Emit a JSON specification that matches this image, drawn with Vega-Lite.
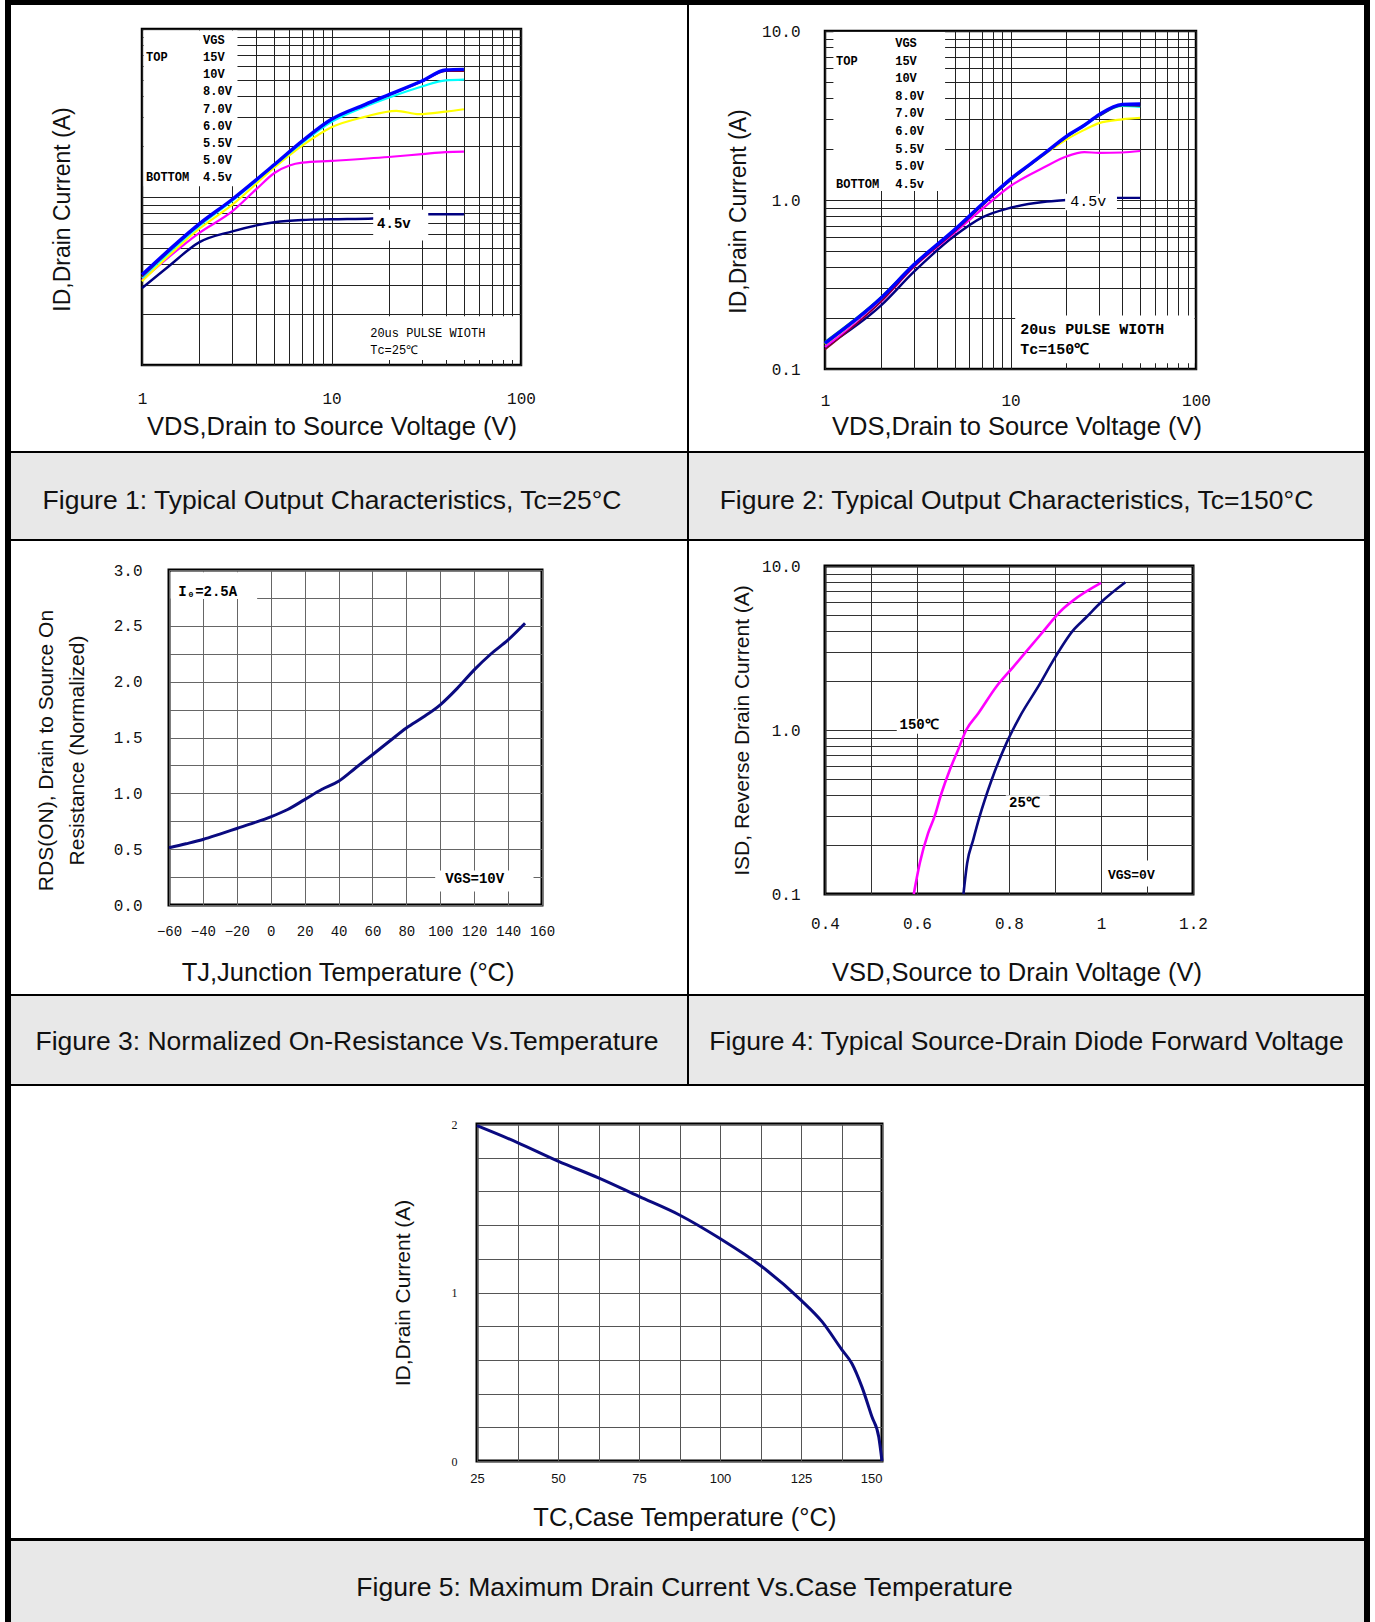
{
"$schema":"https://vega.github.io/schema/vega-lite/v6.json",
"background":"white",
"padding":{"left":5,"top":0,"right":0,"bottom":0},
"spacing":0,
"bounds":"flush",
"config":{"view":{"stroke":null},"axis":{"domain":false,"ticks":false,"labelFont":"Liberation Mono","labelColor":"#111","titleFont":"Liberation Sans","titleFontWeight":"normal","titleColor":"#111","gridColor":"#333","gridOpacity":1,"gridWidth":1,"labelFlush":false}},
"vconcat":[
{"hconcat":[
 {"width":6,"height":1622,"data":{"values":[]},"mark":"point","view":{"fill":"#000"}},
 {"width":676,"height":1,"data":{"values":[]},"mark":"point"},
 {"width":2,"height":1084,"data":{"values":[]},"mark":"point","view":{"fill":"#000"}},
 {"width":675,"height":1,"data":{"values":[]},"mark":"point"},
 {"width":6,"height":1622,"data":{"values":[]},"mark":"point","view":{"fill":"#000"}}
],"spacing":0,"bounds":"flush"},
{"hconcat":[{"width":1365,"height":5,"data":{"values":[]},"mark":"point","view":{"fill":"#000"}}],"spacing":0,"bounds":"flush"},
{"width":0,"height":29,"data":{"values":[]},"mark":"point"},

{"hconcat":[
 {"width":137,"height":1,"data":{"values":[]},"mark":"point"},
 {"width":379,"height":336,"view":{"stroke":"#000","strokeWidth":2.5},
  "encoding":{
   "x":{"field":"x","type":"quantitative","scale":{"type":"log","domain":[1,100],"nice":false},"title":"VDS,Drain to Source Voltage (V)",
    "axis":{"values":[1,2,3,4,5,6,7,8,9,10,20,30,40,50,60,70,80,90,100],"labelExpr":"datum.value==1?'1':datum.value==10?'10':datum.value==100?'100':''","labelFontSize":16,"labelPadding":25,"titleFontSize":25.5,"titlePadding":8,"grid":true,"gridColor":"#222"}},
   "y":{"field":"y","type":"quantitative","scale":{"type":"log","domain":[0.1,10],"nice":false},"title":"ID,Drain Current (A)",
    "axis":{"values":[0.1,0.2,0.3,0.4,0.5,0.6,0.7,0.8,0.9,1,2,3,4,5,6,7,8,9,10],"labels":false,"titleFontSize":23,"titlePadding":68,"titleY":180,"grid":true,"gridColor":"#222"}}},
  "layer":[
   {"data":{"values":[
    {"vgs":"g1_4.5V","x":1,"y":0.287},{"vgs":"g1_4.5V","x":1.38,"y":0.386},{"vgs":"g1_4.5V","x":2,"y":0.537},{"vgs":"g1_4.5V","x":3,"y":0.625},{"vgs":"g1_4.5V","x":5,"y":0.708},{"vgs":"g1_4.5V","x":7,"y":0.73},{"vgs":"g1_4.5V","x":10,"y":0.737},{"vgs":"g1_4.5V","x":16.6,"y":0.745},{"vgs":"g1_4.5V","x":32.4,"y":0.79},{"vgs":"g1_4.5V","x":50,"y":0.79},
    {"vgs":"g2_5.0V","x":1,"y":0.32},{"vgs":"g2_5.0V","x":2,"y":0.61},{"vgs":"g2_5.0V","x":3,"y":0.823},{"vgs":"g2_5.0V","x":4,"y":1.11},{"vgs":"g2_5.0V","x":5,"y":1.39},{"vgs":"g2_5.0V","x":6,"y":1.54},{"vgs":"g2_5.0V","x":7,"y":1.6},{"vgs":"g2_5.0V","x":10,"y":1.64},{"vgs":"g2_5.0V","x":20,"y":1.73},{"vgs":"g2_5.0V","x":30,"y":1.8},{"vgs":"g2_5.0V","x":40,"y":1.85},{"vgs":"g2_5.0V","x":50,"y":1.86},
    {"vgs":"g3_6.0V","x":1,"y":0.315},{"vgs":"g3_6.0V","x":2,"y":0.646},{"vgs":"g3_6.0V","x":3,"y":0.9},{"vgs":"g3_6.0V","x":5,"y":1.5},{"vgs":"g3_6.0V","x":7,"y":2.02},{"vgs":"g3_6.0V","x":10,"y":2.6},{"vgs":"g3_6.0V","x":15,"y":3.0},{"vgs":"g3_6.0V","x":22,"y":3.26},{"vgs":"g3_6.0V","x":29,"y":3.11},{"vgs":"g3_6.0V","x":40,"y":3.22},{"vgs":"g3_6.0V","x":50,"y":3.33},
    {"vgs":"g4_7.0V","x":1,"y":0.33},{"vgs":"g4_7.0V","x":2,"y":0.67},{"vgs":"g4_7.0V","x":3,"y":0.95},{"vgs":"g4_7.0V","x":5,"y":1.54},{"vgs":"g4_7.0V","x":7,"y":2.1},{"vgs":"g4_7.0V","x":10,"y":2.8},{"vgs":"g4_7.0V","x":15,"y":3.45},{"vgs":"g4_7.0V","x":20,"y":3.9},{"vgs":"g4_7.0V","x":30,"y":4.55},{"vgs":"g4_7.0V","x":40,"y":4.95},{"vgs":"g4_7.0V","x":50,"y":5.0},
    {"vgs":"g6_10V","x":1,"y":0.335},{"vgs":"g6_10V","x":2,"y":0.68},{"vgs":"g6_10V","x":3,"y":0.96},{"vgs":"g6_10V","x":5,"y":1.55},{"vgs":"g6_10V","x":7,"y":2.13},{"vgs":"g6_10V","x":10,"y":2.88},{"vgs":"g6_10V","x":15,"y":3.52},{"vgs":"g6_10V","x":20,"y":4.02},{"vgs":"g6_10V","x":30,"y":4.85},{"vgs":"g6_10V","x":40,"y":5.6},{"vgs":"g6_10V","x":50,"y":5.6},
    {"vgs":"g7_15V","x":1,"y":0.344},{"vgs":"g7_15V","x":2,"y":0.69},{"vgs":"g7_15V","x":3,"y":0.97},{"vgs":"g7_15V","x":5,"y":1.56},{"vgs":"g7_15V","x":7,"y":2.15},{"vgs":"g7_15V","x":10,"y":2.9},{"vgs":"g7_15V","x":15,"y":3.55},{"vgs":"g7_15V","x":20,"y":4.06},{"vgs":"g7_15V","x":30,"y":4.9},{"vgs":"g7_15V","x":40,"y":5.7},{"vgs":"g7_15V","x":50,"y":5.75}]},
    "mark":{"type":"line","interpolate":"monotone"},
    "encoding":{"color":{"field":"vgs","type":"nominal","scale":{"domain":["g1_4.5V","g2_5.0V","g3_6.0V","g4_7.0V","g5_8.0V","g6_10V","g7_15V","t150","t25"],"range":["#000080","#ff00ff","#ffff00","#00ffff","#008080","#800030","#0000ff","#ff00ff","#0a0a80"]},"legend":null},
     "strokeWidth":{"field":"vgs","type":"nominal","scale":{"type":"ordinal","domain":["g1_4.5V","g2_5.0V","g3_6.0V","g4_7.0V","g5_8.0V","g6_10V","g7_15V"],"range":[2.4,2.2,2.2,2.2,2,1.6,3.4]},"legend":null}}},
   {"data":{"values":[{"x":1.02,"x2":3.19,"y":1.16,"y2":9.8},{"x":16.6,"x2":32.4,"y":0.55,"y2":0.84},{"x":14.7,"x2":98,"y":0.107,"y2":0.195}]},
    "mark":{"type":"rect","fill":"#fff"},"encoding":{"x2":{"field":"x2"},"y2":{"field":"y2"}}},
   {"data":{"values":[{"x":2.1,"y":8.64,"t":"VGS"},{"x":1.05,"y":6.84,"t":"TOP"},{"x":2.1,"y":6.84,"t":"15V"},{"x":2.1,"y":5.43,"t":"10V"},{"x":2.1,"y":4.28,"t":"8.0V"},{"x":2.1,"y":3.36,"t":"7.0V"},{"x":2.1,"y":2.65,"t":"6.0V"},{"x":2.1,"y":2.1,"t":"5.5V"},{"x":2.1,"y":1.66,"t":"5.0V"},{"x":1.05,"y":1.31,"t":"BOTTOM"},{"x":2.1,"y":1.31,"t":"4.5v"}]},
    "mark":{"type":"text","align":"left","baseline":"middle","font":"Liberation Mono","fontSize":12,"fontWeight":"bold","color":"#000"},"encoding":{"text":{"field":"t"}}},
   {"data":{"values":[{"x":17.4,"y":0.695,"t":"4.5v"}]},
    "mark":{"type":"text","align":"left","baseline":"middle","font":"Liberation Mono","fontSize":14,"fontWeight":"bold","color":"#000"},"encoding":{"text":{"field":"t"}}},
   {"data":{"values":[{"x":16,"y":0.1545,"t":"20us PULSE WIOTH"},{"x":16,"y":0.122,"t":"Tc=25℃"}]},
    "mark":{"type":"text","align":"left","baseline":"middle","font":"Liberation Mono","fontSize":12,"color":"#000"},"encoding":{"text":{"field":"t"}}}
  ]}
],"spacing":0,"bounds":"flush"},
{"width":0,"height":2,"data":{"values":[]},"mark":"point"},

{"hconcat":[
 {"width":820,"height":1,"data":{"values":[]},"mark":"point"},
 {"width":371,"height":338,"view":{"stroke":"#000","strokeWidth":2.5},
  "encoding":{
   "x":{"field":"x","type":"quantitative","scale":{"type":"log","domain":[1,100],"nice":false},"title":"VDS,Drain to Source Voltage (V)",
    "axis":{"values":[1,2,3,4,5,6,7,8,9,10,20,30,40,50,60,70,80,90,100],"labelExpr":"datum.value==1?'1':datum.value==10?'10':datum.value==100?'100':''","labelFontSize":16,"labelPadding":23,"titleFontSize":25.5,"titlePadding":6,"titleX":191.5,"grid":true,"gridColor":"#222"}},
   "y":{"field":"y","type":"quantitative","scale":{"type":"log","domain":[0.1,10],"nice":false},"title":"ID,Drain Current (A)",
    "axis":{"values":[0.1,0.2,0.3,0.4,0.5,0.6,0.7,0.8,0.9,1,2,3,4,5,6,7,8,9,10],"labelExpr":"datum.value==0.1?'0.1':datum.value==1?'1.0':datum.value==10?'10.0':''","labelFontSize":16,"labelPadding":25,"titleFontSize":23,"titlePadding":11,"titleY":180,"grid":true,"gridColor":"#222"}}},
  "layer":[
   {"data":{"values":[
    {"vgs":"g1_4.5V","x":1,"y":0.135},{"vgs":"g1_4.5V","x":2,"y":0.237},{"vgs":"g1_4.5V","x":3,"y":0.374},{"vgs":"g1_4.5V","x":5,"y":0.614},{"vgs":"g1_4.5V","x":7,"y":0.787},{"vgs":"g1_4.5V","x":10,"y":0.9},{"vgs":"g1_4.5V","x":15,"y":0.973},{"vgs":"g1_4.5V","x":20,"y":1.0},{"vgs":"g1_4.5V","x":37.5,"y":1.03},{"vgs":"g1_4.5V","x":50,"y":1.03},
    {"vgs":"g2_5.0V","x":1,"y":0.135},{"vgs":"g2_5.0V","x":2,"y":0.25},{"vgs":"g2_5.0V","x":3,"y":0.4},{"vgs":"g2_5.0V","x":5,"y":0.64},{"vgs":"g2_5.0V","x":7,"y":0.88},{"vgs":"g2_5.0V","x":10,"y":1.21},{"vgs":"g2_5.0V","x":15,"y":1.55},{"vgs":"g2_5.0V","x":20,"y":1.81},{"vgs":"g2_5.0V","x":25,"y":1.92},{"vgs":"g2_5.0V","x":30,"y":1.9},{"vgs":"g2_5.0V","x":40,"y":1.91},{"vgs":"g2_5.0V","x":50,"y":1.95},
    {"vgs":"g3_6.0V","x":1,"y":0.14},{"vgs":"g3_6.0V","x":2,"y":0.26},{"vgs":"g3_6.0V","x":3,"y":0.41},{"vgs":"g3_6.0V","x":5,"y":0.66},{"vgs":"g3_6.0V","x":7,"y":0.93},{"vgs":"g3_6.0V","x":10,"y":1.31},{"vgs":"g3_6.0V","x":15,"y":1.84},{"vgs":"g3_6.0V","x":20,"y":2.28},{"vgs":"g3_6.0V","x":25,"y":2.6},{"vgs":"g3_6.0V","x":30,"y":2.85},{"vgs":"g3_6.0V","x":40,"y":3.0},{"vgs":"g3_6.0V","x":50,"y":3.06},
    {"vgs":"g4_7.0V","x":1,"y":0.142},{"vgs":"g4_7.0V","x":2,"y":0.262},{"vgs":"g4_7.0V","x":3,"y":0.412},{"vgs":"g4_7.0V","x":5,"y":0.665},{"vgs":"g4_7.0V","x":7,"y":0.935},{"vgs":"g4_7.0V","x":10,"y":1.32},{"vgs":"g4_7.0V","x":15,"y":1.86},{"vgs":"g4_7.0V","x":20,"y":2.36},{"vgs":"g4_7.0V","x":25,"y":2.75},{"vgs":"g4_7.0V","x":30,"y":3.16},{"vgs":"g4_7.0V","x":40,"y":3.6},{"vgs":"g4_7.0V","x":50,"y":3.55},
    {"vgs":"g5_8.0V","x":1,"y":0.145},{"vgs":"g5_8.0V","x":2,"y":0.266},{"vgs":"g5_8.0V","x":3,"y":0.415},{"vgs":"g5_8.0V","x":5,"y":0.66},{"vgs":"g5_8.0V","x":7,"y":0.93},{"vgs":"g5_8.0V","x":10,"y":1.31},{"vgs":"g5_8.0V","x":15,"y":1.85},{"vgs":"g5_8.0V","x":20,"y":2.35},{"vgs":"g5_8.0V","x":30,"y":3.14},{"vgs":"g5_8.0V","x":40,"y":3.62},{"vgs":"g5_8.0V","x":50,"y":3.6},
    {"vgs":"g6_10V","x":1,"y":0.13},{"vgs":"g6_10V","x":2,"y":0.25},{"vgs":"g6_10V","x":3,"y":0.4},{"vgs":"g6_10V","x":5,"y":0.65},{"vgs":"g6_10V","x":7,"y":0.92},{"vgs":"g6_10V","x":10,"y":1.31},{"vgs":"g6_10V","x":15,"y":1.85},{"vgs":"g6_10V","x":20,"y":2.35},{"vgs":"g6_10V","x":30,"y":3.15},{"vgs":"g6_10V","x":40,"y":3.64},{"vgs":"g6_10V","x":50,"y":3.62},
    {"vgs":"g7_15V","x":1,"y":0.142},{"vgs":"g7_15V","x":2,"y":0.262},{"vgs":"g7_15V","x":3,"y":0.412},{"vgs":"g7_15V","x":5,"y":0.668},{"vgs":"g7_15V","x":7,"y":0.94},{"vgs":"g7_15V","x":10,"y":1.33},{"vgs":"g7_15V","x":15,"y":1.86},{"vgs":"g7_15V","x":20,"y":2.38},{"vgs":"g7_15V","x":25,"y":2.77},{"vgs":"g7_15V","x":30,"y":3.2},{"vgs":"g7_15V","x":40,"y":3.68},{"vgs":"g7_15V","x":50,"y":3.7}]},
    "mark":{"type":"line","interpolate":"monotone"},
    "encoding":{"color":{"field":"vgs","type":"nominal","scale":{"domain":["g1_4.5V","g2_5.0V","g3_6.0V","g4_7.0V","g5_8.0V","g6_10V","g7_15V","t150","t25"],"range":["#000080","#ff00ff","#ffff00","#00ffff","#008080","#800030","#0000ff","#ff00ff","#0a0a80"]},"legend":null},
     "strokeWidth":{"field":"vgs","type":"nominal","scale":{"type":"ordinal","domain":["g1_4.5V","g2_5.0V","g3_6.0V","g4_7.0V","g5_8.0V","g6_10V","g7_15V"],"range":[2.4,2.2,2.2,2.2,2,1.6,3.4]},"legend":null}}},
   {"data":{"values":[{"x":1.11,"x2":4.44,"y":1.13,"y2":9.85},{"x":19.7,"x2":37.5,"y":0.87,"y2":1.09},{"x":10.6,"x2":98,"y":0.108,"y2":0.207}]},
    "mark":{"type":"rect","fill":"#fff"},"encoding":{"x2":{"field":"x2"},"y2":{"field":"y2"}}},
   {"data":{"values":[{"x":2.39,"y":8.5,"t":"VGS"},{"x":1.146,"y":6.66,"t":"TOP"},{"x":2.39,"y":6.66,"t":"15V"},{"x":2.39,"y":5.24,"t":"10V"},{"x":2.39,"y":4.13,"t":"8.0V"},{"x":2.39,"y":3.25,"t":"7.0V"},{"x":2.39,"y":2.55,"t":"6.0V"},{"x":2.39,"y":2.0,"t":"5.5V"},{"x":2.39,"y":1.58,"t":"5.0V"},{"x":1.146,"y":1.24,"t":"BOTTOM"},{"x":2.39,"y":1.24,"t":"4.5v"}]},
    "mark":{"type":"text","align":"left","baseline":"middle","font":"Liberation Mono","fontSize":12,"fontWeight":"bold","color":"#000"},"encoding":{"text":{"field":"t"}}},
   {"data":{"values":[{"x":21,"y":0.987,"t":"4.5v"}]},
    "mark":{"type":"text","align":"left","baseline":"middle","font":"Liberation Mono","fontSize":15,"color":"#000"},"encoding":{"text":{"field":"t"}}},
   {"data":{"values":[{"x":11.3,"y":0.172,"t":"20us PULSE WIOTH"},{"x":11.3,"y":0.1306,"t":"Tc=150℃"}]},
    "mark":{"type":"text","align":"left","baseline":"middle","font":"Liberation Mono","fontSize":15,"fontWeight":"bold","color":"#000"},"encoding":{"text":{"field":"t"}}}
  ]}
],"spacing":0,"bounds":"flush"},
{"width":0,"height":420,"data":{"values":[]},"mark":"point"},

{"hconcat":[{"width":1365,"height":2,"data":{"values":[]},"mark":"point","view":{"fill":"#000"}}],"spacing":0,"bounds":"flush"},
{"width":0,"height":2,"data":{"values":[]},"mark":"point"},

{"hconcat":[
 {"width":6,"height":1,"data":{"values":[]},"mark":"point"},
 {"width":676,"height":86,"view":{"fill":"#e8e8e8"},"data":{"values":[{"t":"Figure 1: Typical Output Characteristics, Tc=25°C"}]},"mark":{"type":"text","font":"Liberation Sans","fontSize":26.5,"color":"#111","dx":-17,"dy":5},"encoding":{"text":{"field":"t"}}},
 {"width":2,"height":1,"data":{"values":[]},"mark":"point"},
 {"width":675,"height":86,"view":{"fill":"#e8e8e8"},"data":{"values":[{"t":"Figure 2: Typical Output Characteristics, Tc=150°C"}]},"mark":{"type":"text","font":"Liberation Sans","fontSize":26.5,"color":"#111","dx":-10,"dy":5},"encoding":{"text":{"field":"t"}}}
],"spacing":0,"bounds":"flush"},
{"width":0,"height":86,"data":{"values":[]},"mark":"point"},

{"hconcat":[{"width":1365,"height":2,"data":{"values":[]},"mark":"point","view":{"fill":"#000"}}],"spacing":0,"bounds":"flush"},
{"width":0,"height":27,"data":{"values":[]},"mark":"point"},

{"hconcat":[
 {"width":820,"height":1,"data":{"values":[]},"mark":"point"},
 {"width":368,"height":328,"view":{"stroke":"#000","strokeWidth":3},
  "encoding":{
   "x":{"field":"x","type":"quantitative","scale":{"domain":[0.4,1.2],"nice":false,"zero":false},"title":"VSD,Source to Drain Voltage (V)",
    "axis":{"values":[0.4,0.5,0.6,0.7,0.8,0.9,1,1.1,1.2],"labelExpr":"datum.value==0.4?'0.4':datum.value==0.6?'0.6':datum.value==0.8?'0.8':datum.value==1?'1':datum.value==1.2?'1.2':''","labelFontSize":16,"labelPadding":21,"titleFontSize":25.5,"titlePadding":29,"titleX":191.5,"grid":true,"gridColor":"#333"}},
   "y":{"field":"y","type":"quantitative","scale":{"type":"log","domain":[0.1,10],"nice":false},"title":"ISD, Reverse Drain Current (A)",
    "axis":{"values":[0.1,0.2,0.3,0.4,0.5,0.6,0.7,0.8,0.9,1,2,3,4,5,6,7,8,9,10],"labelExpr":"datum.value==0.1?'0.1':datum.value==1?'1.0':datum.value==10?'10.0':''","labelFontSize":16,"labelPadding":25,"titleFontSize":21,"titlePadding":9,"grid":true,"gridColor":"#333"}}},
  "layer":[
   {"data":{"values":[
    {"temp":"t150","x":0.593,"y":0.1},{"temp":"t150","x":0.606,"y":0.154},{"temp":"t150","x":0.624,"y":0.234},{"temp":"t150","x":0.638,"y":0.296},{"temp":"t150","x":0.653,"y":0.41},{"temp":"t150","x":0.671,"y":0.569},{"temp":"t150","x":0.689,"y":0.752},{"temp":"t150","x":0.707,"y":1.0},{"temp":"t150","x":0.733,"y":1.26},{"temp":"t150","x":0.772,"y":1.83},{"temp":"t150","x":0.809,"y":2.42},{"temp":"t150","x":0.867,"y":3.77},{"temp":"t150","x":0.917,"y":5.47},{"temp":"t150","x":0.939,"y":6.15},{"temp":"t150","x":1.0,"y":7.88},
    {"temp":"t25","x":0.701,"y":0.1},{"temp":"t25","x":0.709,"y":0.154},{"temp":"t25","x":0.722,"y":0.213},{"temp":"t25","x":0.736,"y":0.296},{"temp":"t25","x":0.762,"y":0.494},{"temp":"t25","x":0.794,"y":0.826},{"temp":"t25","x":0.823,"y":1.2},{"temp":"t25","x":0.867,"y":1.91},{"temp":"t25","x":0.896,"y":2.65},{"temp":"t25","x":0.939,"y":4.04},{"temp":"t25","x":0.968,"y":4.87},{"temp":"t25","x":1.0,"y":6.01},{"temp":"t25","x":1.053,"y":7.96}]},
    "mark":{"type":"line","interpolate":"monotone","strokeWidth":2.6},
    "encoding":{"color":{"field":"temp","type":"nominal","scale":{"domain":["g1_4.5V","g2_5.0V","g3_6.0V","g4_7.0V","g5_8.0V","g6_10V","g7_15V","t150","t25"],"range":["#000080","#ff00ff","#ffff00","#00ffff","#008080","#800030","#0000ff","#ff00ff","#0a0a80"]},"legend":null}}},
   {"data":{"values":[{"x":0.556,"x2":0.693,"y":0.95,"y2":1.17},{"x":0.793,"x2":0.888,"y":0.324,"y2":0.4},{"x":1.005,"x2":1.195,"y":0.111,"y2":0.16}]},
    "mark":{"type":"rect","fill":"#fff"},"encoding":{"x2":{"field":"x2"},"y2":{"field":"y2"}}},
   {"data":{"values":[{"x":0.562,"y":1.07,"t":"150℃"},{"x":0.8,"y":0.361,"t":"25℃"}]},
    "mark":{"type":"text","align":"left","baseline":"middle","font":"Liberation Mono","fontSize":14,"fontWeight":"bold","color":"#000"},"encoding":{"text":{"field":"t"}}},
   {"data":{"values":[{"x":1.015,"y":0.13,"t":"VGS=0V"}]},
    "mark":{"type":"text","align":"left","baseline":"middle","font":"Liberation Mono","fontSize":13,"fontWeight":"bold","color":"#000"},"encoding":{"text":{"field":"t"}}}
  ]}
],"spacing":0,"bounds":"flush"},
{"width":0,"height":4,"data":{"values":[]},"mark":"point"},

{"hconcat":[
 {"width":164,"height":1,"data":{"values":[]},"mark":"point"},
 {"width":373,"height":335,"view":{"stroke":"#000","strokeWidth":3},
  "encoding":{
   "x":{"field":"x","type":"quantitative","scale":{"domain":[-60,160],"nice":false,"zero":false},"title":"TJ,Junction Temperature (°C)",
    "axis":{"values":[-60,-40,-20,0,20,40,60,80,100,120,140,160],"labelFontSize":14,"labelPadding":19,"titleFontSize":25.5,"titlePadding":22,"titleX":178.6,"grid":true,"gridColor":"#666"}},
   "y":{"field":"y","type":"quantitative","scale":{"domain":[0,3],"nice":false},"title":["RDS(ON), Drain to Source On","Resistance (Normalized)"],
    "axis":{"values":[0,0.25,0.5,0.75,1,1.25,1.5,1.75,2,2.25,2.5,2.75,3],"labelExpr":"datum.value*2%1==0 ? format(datum.value,'.1f') : ''","labelFontSize":16,"labelPadding":27,"titleFontSize":21,"titleLineHeight":31,"titlePadding":26,"titleY":180,"grid":true,"gridColor":"#666"}}},
  "layer":[
   {"data":{"values":[{"x":-60,"y":0.512},{"x":-50,"y":0.548},{"x":-40,"y":0.587},{"x":-30,"y":0.635},{"x":-20,"y":0.685},{"x":-10,"y":0.735},{"x":0,"y":0.789},{"x":10,"y":0.855},{"x":20,"y":0.944},{"x":30,"y":1.034},{"x":40,"y":1.108},{"x":50,"y":1.227},{"x":60,"y":1.346},{"x":70,"y":1.466},{"x":80,"y":1.585},{"x":90,"y":1.683},{"x":100,"y":1.793},{"x":110,"y":1.94},{"x":120,"y":2.106},{"x":130,"y":2.25},{"x":140,"y":2.374},{"x":150,"y":2.523}]},
    "mark":{"type":"line","interpolate":"monotone","color":"#0a0a80","strokeWidth":3}},
   {"data":{"values":[{"x":-59,"x2":-8,"y":2.74,"y2":2.98},{"x":97,"x2":155,"y":0.12,"y2":0.31}]},
    "mark":{"type":"rect","fill":"#fff"},"encoding":{"x2":{"field":"x2"},"y2":{"field":"y2"}}},
   {"data":{"values":[{"x":-54.5,"y":2.8,"t":"I₀=2.5A"},{"x":103,"y":0.229,"t":"VGS=10V"}]},
    "mark":{"type":"text","align":"left","baseline":"middle","font":"Liberation Mono","fontSize":14,"fontWeight":"bold","color":"#000"},"encoding":{"text":{"field":"t"}}}
  ]}
],"spacing":0,"bounds":"flush"},
{"width":0,"height":424,"data":{"values":[]},"mark":"point"},

{"hconcat":[{"width":1365,"height":2,"data":{"values":[]},"mark":"point","view":{"fill":"#000"}}],"spacing":0,"bounds":"flush"},
{"width":0,"height":2,"data":{"values":[]},"mark":"point"},

{"hconcat":[
 {"width":6,"height":1,"data":{"values":[]},"mark":"point"},
 {"width":676,"height":88,"view":{"fill":"#e8e8e8"},"data":{"values":[{"t":"Figure 3: Normalized On-Resistance Vs.Temperature"}]},"mark":{"type":"text","font":"Liberation Sans","fontSize":26.5,"color":"#111","dx":-2,"dy":2},"encoding":{"text":{"field":"t"}}},
 {"width":2,"height":1,"data":{"values":[]},"mark":"point"},
 {"width":675,"height":88,"view":{"fill":"#e8e8e8"},"data":{"values":[{"t":"Figure 4: Typical Source-Drain Diode Forward Voltage"}]},"mark":{"type":"text","font":"Liberation Sans","fontSize":26.5,"color":"#111","dx":0,"dy":2},"encoding":{"text":{"field":"t"}}}
],"spacing":0,"bounds":"flush"},
{"width":0,"height":88,"data":{"values":[]},"mark":"point"},

{"hconcat":[{"width":1365,"height":2,"data":{"values":[]},"mark":"point","view":{"fill":"#000"}}],"spacing":0,"bounds":"flush"},
{"width":0,"height":40,"data":{"values":[]},"mark":"point"},

{"hconcat":[
 {"width":472,"height":1,"data":{"values":[]},"mark":"point"},
 {"width":405,"height":337,"view":{"stroke":"#000","strokeWidth":3},
  "data":{"values":[{"x":25,"y":1.99},{"x":37.5,"y":1.89},{"x":50,"y":1.78},{"x":62.5,"y":1.68},{"x":75,"y":1.57},{"x":87.5,"y":1.46},{"x":100,"y":1.32},{"x":112.5,"y":1.16},{"x":125,"y":0.955},{"x":131.5,"y":0.827},{"x":137.7,"y":0.658},{"x":140.7,"y":0.579},{"x":143.8,"y":0.44},{"x":146.9,"y":0.262},{"x":149,"y":0.143},{"x":150,"y":0}]},
  "mark":{"type":"line","interpolate":"monotone","color":"#0a0a80","strokeWidth":3},
  "encoding":{
   "x":{"field":"x","type":"quantitative","scale":{"domain":[25,150],"nice":false,"zero":false},"title":"TC,Case Temperature (°C)",
    "axis":{"values":[25,37.5,50,62.5,75,87.5,100,112.5,125,137.5,150],"labelExpr":"datum.value%25==0 ? format(datum.value,'d') : ''","labelFont":"Liberation Sans","labelFontSize":13,"labelPadding":11,"labelAlign":{"condition":{"test":"datum.value==150","value":"right"},"value":"center"},"titleFontSize":25.5,"titlePadding":20,"titleX":207.4,"grid":true,"gridColor":"#555"}},
   "y":{"field":"y","type":"quantitative","scale":{"domain":[0,2],"nice":false},"title":"ID,Drain Current (A)",
    "axis":{"values":[0,0.2,0.4,0.6,0.8,1,1.2,1.4,1.6,1.8,2],"labelExpr":"datum.value==0?'0':datum.value==1?'1':datum.value==2?'2':''","labelFont":"Liberation Serif","labelFontSize":12,"labelPadding":20,"titleFontSize":21,"titlePadding":38,"grid":true,"gridColor":"#555"}}}}
],"spacing":0,"bounds":"flush"},
{"width":0,"height":414,"data":{"values":[]},"mark":"point"},

{"hconcat":[{"width":1365,"height":3,"data":{"values":[]},"mark":"point","view":{"fill":"#000"}}],"spacing":0,"bounds":"flush"},
{"width":0,"height":3,"data":{"values":[]},"mark":"point"},

{"hconcat":[
 {"width":6,"height":1,"data":{"values":[]},"mark":"point"},
 {"width":1353,"height":81,"view":{"fill":"#e8e8e8"},"data":{"values":[{"t":"Figure 5: Maximum Drain Current Vs.Case Temperature"}]},"mark":{"type":"text","font":"Liberation Sans","fontSize":26.5,"color":"#111","dx":-3,"dy":6},"encoding":{"text":{"field":"t"}}}
],"spacing":0,"bounds":"flush"},
{"width":0,"height":81,"data":{"values":[]},"mark":"point"}
]
}
